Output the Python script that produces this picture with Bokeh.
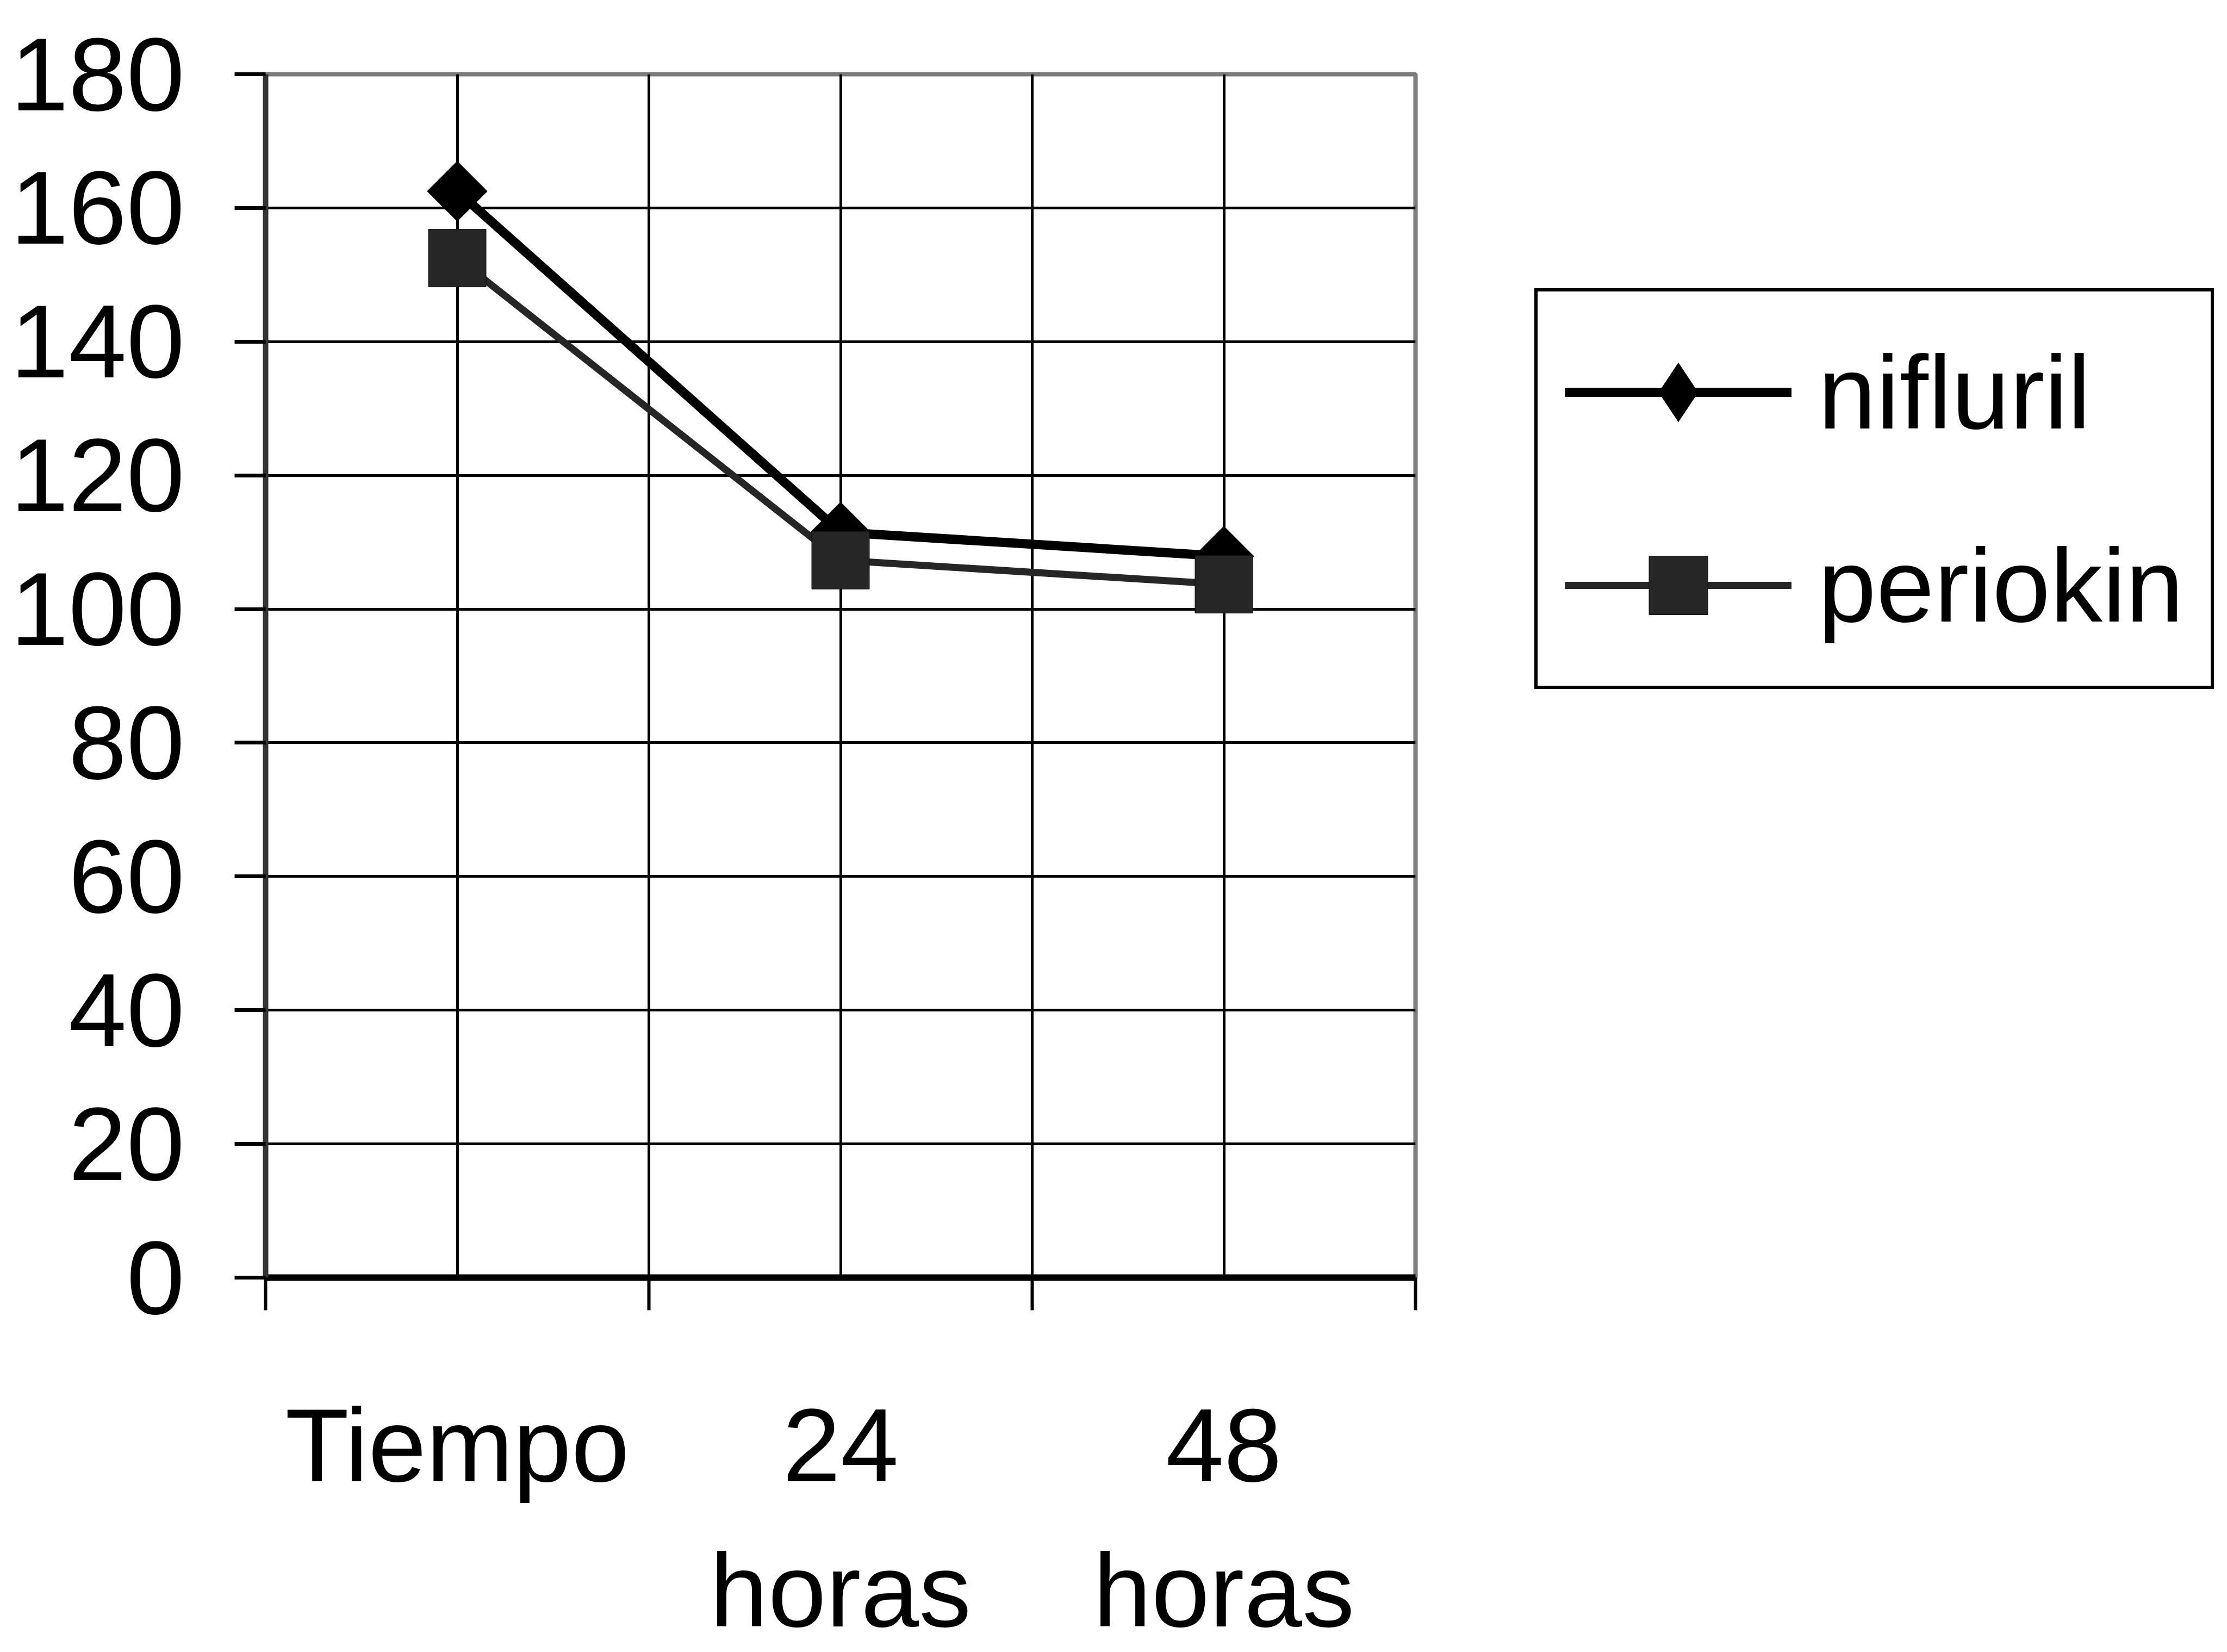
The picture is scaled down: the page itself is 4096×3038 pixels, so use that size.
import math
from bokeh.plotting import figure
from bokeh.models import FixedTicker, Legend, LegendItem, Range1d, LinearAxis
from bokeh.embed import file_html
from bokeh.resources import INLINE

# ---- data ----
cat_line1 = ["Tiempo", "24", "48"]
cat_line2 = ["", "horas", "horas"]
cat_pos = [0.5, 1.5, 2.5]
cat_bounds = [0, 1, 2, 3]
nifluril = [162.5, 111.5, 107.9]
periokin = [152.5, 107.3, 103.7]
y_ticks = [0, 20, 40, 60, 80, 100, 120, 140, 160, 180]
y_grid = [20, 40, 60, 80, 100, 120, 140, 160]
x_grid = [0.5, 1, 1.5, 2, 2.5]

FONT = "Liberation Sans"
FS = "192px"

p = figure(width=4096, height=3038, output_backend="svg", toolbar_location=None,
           x_range=Range1d(0, 3), y_range=Range1d(0, 180),
           min_border_left=488, min_border_right=1493,
           min_border_top=136, min_border_bottom=689)
p.background_fill_color = "white"
p.border_fill_color = "white"
p.outline_line_color = "#7a7a7a"
p.outline_line_width = 8

# x axis (first line of the category labels)
xa = p.xaxis[0]
xa.ticker = FixedTicker(ticks=cat_pos, minor_ticks=cat_bounds)
xa.major_label_overrides = {pos: lab for pos, lab in zip(cat_pos, cat_line1)}
xa.major_tick_out = 0
xa.major_tick_in = 0
xa.minor_tick_out = 60
xa.minor_tick_in = 0
xa.minor_tick_line_color = "black"
xa.minor_tick_line_width = 6
xa.axis_line_color = "black"
xa.axis_line_width = 12
xa.major_label_standoff = 140
xa.major_label_text_font = FONT
xa.major_label_text_font_size = FS
xa.major_label_text_color = "black"
xa.major_label_text_line_height = 1.0

# second line of the category labels
xa2 = LinearAxis(ticker=FixedTicker(ticks=cat_pos),
                 major_label_overrides={pos: lab for pos, lab in zip(cat_pos, cat_line2)})
xa2.axis_line_color = None
xa2.major_tick_line_color = None
xa2.minor_tick_line_color = None
xa2.major_tick_out = 0
xa2.major_tick_in = 0
xa2.minor_tick_out = 0
xa2.minor_tick_in = 0
xa2.major_label_standoff = 49
xa2.major_label_text_font = FONT
xa2.major_label_text_font_size = FS
xa2.major_label_text_color = "black"
xa2.major_label_text_line_height = 1.0
p.add_layout(xa2, "below")

# y axis
ya = p.yaxis[0]
ya.ticker = FixedTicker(ticks=y_ticks)
ya.major_tick_out = 57
ya.major_tick_in = 0
ya.minor_tick_out = 0
ya.minor_tick_in = 0
ya.major_tick_line_color = "black"
ya.major_tick_line_width = 7
ya.axis_line_color = "#333333"
ya.axis_line_width = 10
ya.major_label_standoff = 92
ya.major_label_text_font = FONT
ya.major_label_text_font_size = FS
ya.major_label_text_color = "black"

# grids
p.xgrid.ticker = FixedTicker(ticks=x_grid)
p.xgrid.grid_line_color = "black"
p.xgrid.grid_line_width = 5
p.ygrid.ticker = FixedTicker(ticks=y_grid)
p.ygrid.grid_line_color = "black"
p.ygrid.grid_line_width = 5

# series
r1 = p.line(cat_pos, nifluril, line_color="black", line_width=17)
s1 = p.scatter(cat_pos, nifluril, marker="square", angle=math.pi / 4, size=78,
               fill_color="black", line_color="black")
d1 = p.scatter(cat_pos, nifluril, marker="diamond", size=20,
               fill_color="black", line_color="black", visible=False)
r2 = p.line(cat_pos, periokin, line_color="#262626", line_width=13)
s2 = p.scatter(cat_pos, periokin, marker="square", size=106,
               fill_color="#262626", line_color="#111111")

legend = Legend(items=[LegendItem(label="nifluril", renderers=[r1, d1]),
                       LegendItem(label="periokin", renderers=[r2, s2])],
                location=(219, 1082), glyph_width=417, glyph_height=270,
                label_height=270, spacing=85, padding=50, label_standoff=49,
                margin=0, border_line_color="black", border_line_width=6,
                border_line_alpha=1.0,
                background_fill_color="white", background_fill_alpha=1.0,
                inactive_fill_alpha=0.0,
                label_text_font=FONT, label_text_font_size=FS,
                label_text_color="black")
p.add_layout(legend, "right")

open("out.html", "w").write(file_html(p, INLINE))
